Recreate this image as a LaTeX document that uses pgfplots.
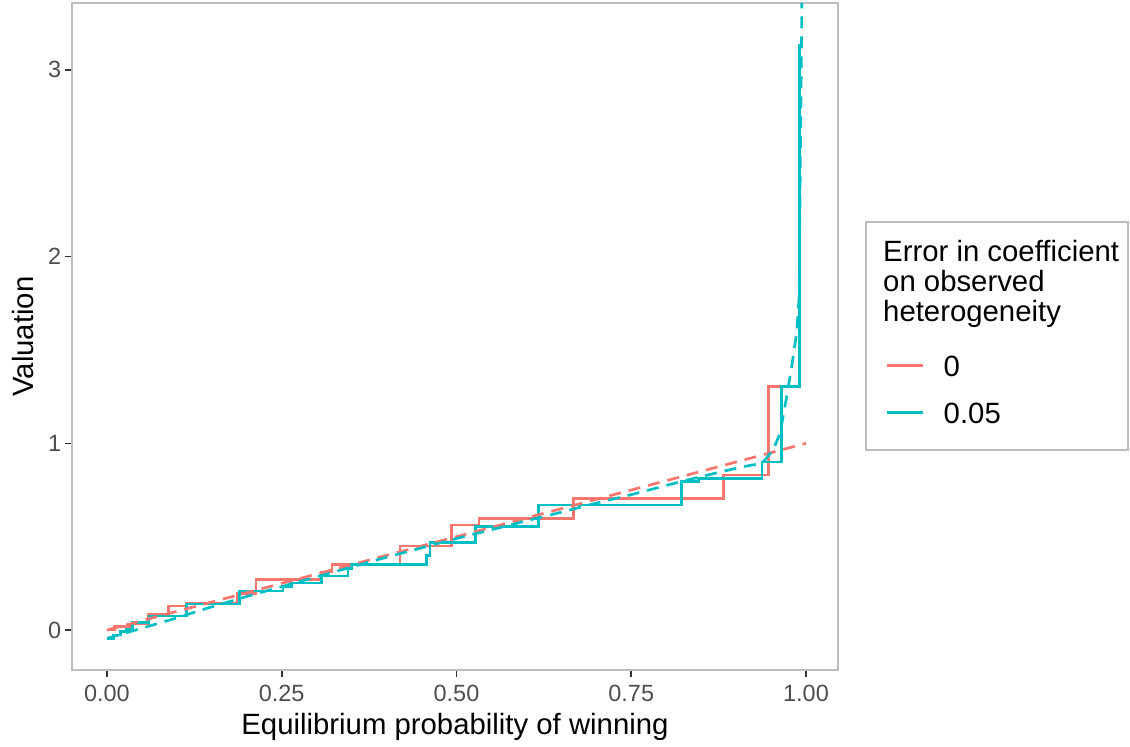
\documentclass[border=0pt]{standalone}
\usepackage{fontspec}
\setmainfont{Liberation Sans}
\usepackage{pgfplots}
\pgfplotsset{compat=1.18}
\definecolor{cred}{HTML}{F8766D}
\definecolor{ccyan}{HTML}{00BFC4}
\definecolor{gborder}{HTML}{BDBDBD}
\definecolor{gtext}{HTML}{4D4D4D}
\definecolor{gtick}{HTML}{333333}
\begin{document}
\begin{tikzpicture}
\path[use as bounding box] (-27pt,-28.875pt) rectangle (396.75pt,251.25pt);
\begin{axis}[
  at={(0,0)}, anchor=south west,
  scale only axis, width=287.25pt, height=250.1pt,
  xmin=-0.05, xmax=1.0458, ymin=-0.214, ymax=3.358,
  axis line style={gborder, line width=0.6pt},
  tick align=outside, tick style={gtick, line width=0.6pt}, major tick length=2.75pt,
  xtick={0,0.25,0.5,0.75,1}, xticklabels={0.00,0.25,0.50,0.75,1.00},
  ytick={0,1,2,3}, yticklabels={0,1,2,3},
  xtick pos=bottom, ytick pos=left,
  ticklabel style={font=\fontsize{8.8}{10}\selectfont, text=gtext},
  xticklabel style={anchor=base, yshift=-9.15pt},
  yticklabel style={xshift=2.25pt},
  xlabel={Equilibrium probability of winning}, ylabel={Valuation},
  label style={font=\fontsize{11}{13}\selectfont},
  xlabel style={at={(axis description cs:0.5,-0.096)}, anchor=base},
  ylabel style={at={(axis description cs:-0.0508,0.5)}, anchor=base},
]
% red step function
\addplot[cred, line width=1pt, const plot] coordinates {
 (0,0) (0.011,0.018) (0.037,0.036) (0.059,0.084) (0.088,0.128) (0.114,0.145)
 (0.186,0.197) (0.213,0.27) (0.307,0.31) (0.322,0.35) (0.419,0.45) (0.493,0.562)
 (0.532,0.598) (0.667,0.705) (0.882,0.83) (0.946,1.303) (0.991,1.303)
};
% cyan step function
\addplot[ccyan, line width=1pt, const plot] coordinates {
 (0,-0.045) (0.009,-0.027) (0.019,-0.009) (0.028,0.004) (0.037,0.04) (0.06,0.075)
 (0.114,0.14) (0.19,0.21) (0.252,0.235) (0.264,0.252) (0.307,0.29) (0.345,0.33)
 (0.35,0.352) (0.457,0.40) (0.462,0.468) (0.527,0.553) (0.617,0.67) (0.822,0.794)
 (0.846,0.81) (0.937,0.90) (0.965,1.303) (0.991,3.14)
};
% red dashed
\addplot[cred, line width=1pt, dash pattern=on 4.5pt off 3pt] coordinates {
 (0,0) (1,1)
};
% cyan dashed
\addplot[ccyan, line width=1pt, dash pattern=on 4.5pt off 3pt] coordinates {
 (0,-0.045) (0.05,0.01) (0.1,0.065) (0.133,0.105) (0.2,0.18) (0.257,0.24)
 (0.319,0.305) (0.4,0.39) (0.5,0.49) (0.6,0.585) (0.653,0.634) (0.7,0.68)
 (0.75,0.725) (0.82,0.794) (0.87,0.84) (0.91,0.875) (0.937,0.893) (0.953,0.964)
 (0.963,1.055) (0.9714,1.23) (0.9795,1.41) (0.9866,1.59) (0.990,1.77)
 (0.9914,2.30) (0.9935,3.10) (0.994,3.40)
};
\end{axis}
% legend
\draw[gborder, line width=0.6pt] (297.75pt,82.5pt) rectangle (396pt,168pt);
\begin{scope}[every node/.style={inner sep=0pt, anchor=base west, font=\fontsize{11}{13}\selectfont}]
\node at (304pt,153.1pt) {Error in coefficient};
\node at (304pt,141.9pt) {on observed};
\node at (304pt,130.7pt) {heterogeneity};
\draw[cred, line width=1pt] (305.6pt,114.1pt) -- (319.1pt,114.1pt);
\draw[ccyan, line width=1pt] (305.6pt,96.6pt) -- (319.1pt,96.6pt);
\node at (326.7pt,110pt) {0};
\node at (326.7pt,92.5pt) {0.05};
\end{scope}
\end{tikzpicture}
\end{document}
